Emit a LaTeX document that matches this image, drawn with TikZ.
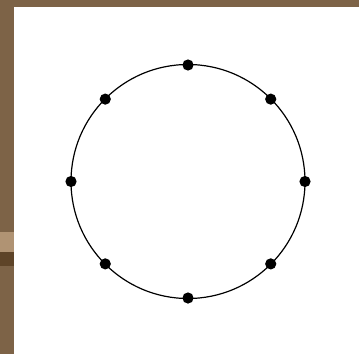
\documentclass[tikz,border=0pt]{standalone}
\usetikzlibrary{calc}
\begin{document}
\begin{tikzpicture}[x=0.5pt,y=-0.5pt,
  dot/.style={circle,fill=black,inner sep=0pt,minimum size=5.6pt}]
\definecolor{bark}{HTML}{7D6347}
\definecolor{barklight}{HTML}{B09373}
\definecolor{barkdark}{HTML}{5E4428}
\useasboundingbox (0,0) rectangle (359,354);
\fill[bark] (0,0) rectangle (359,354);
\fill[barklight] (0,232) rectangle (14,252);
\fill[barkdark] (0,252) rectangle (14,266);
\fill[white] (14,7) rectangle (359,354);
\coordinate (c) at (188,181.5);
\draw[line width=0.6pt] (c) circle[radius=58.5pt];
\foreach \a [count=\i] in {0,45,...,315}
  \node[dot] (d\i) at ($(c)+(\a:117 and -116.5)$) {};
\end{tikzpicture}
\end{document}
